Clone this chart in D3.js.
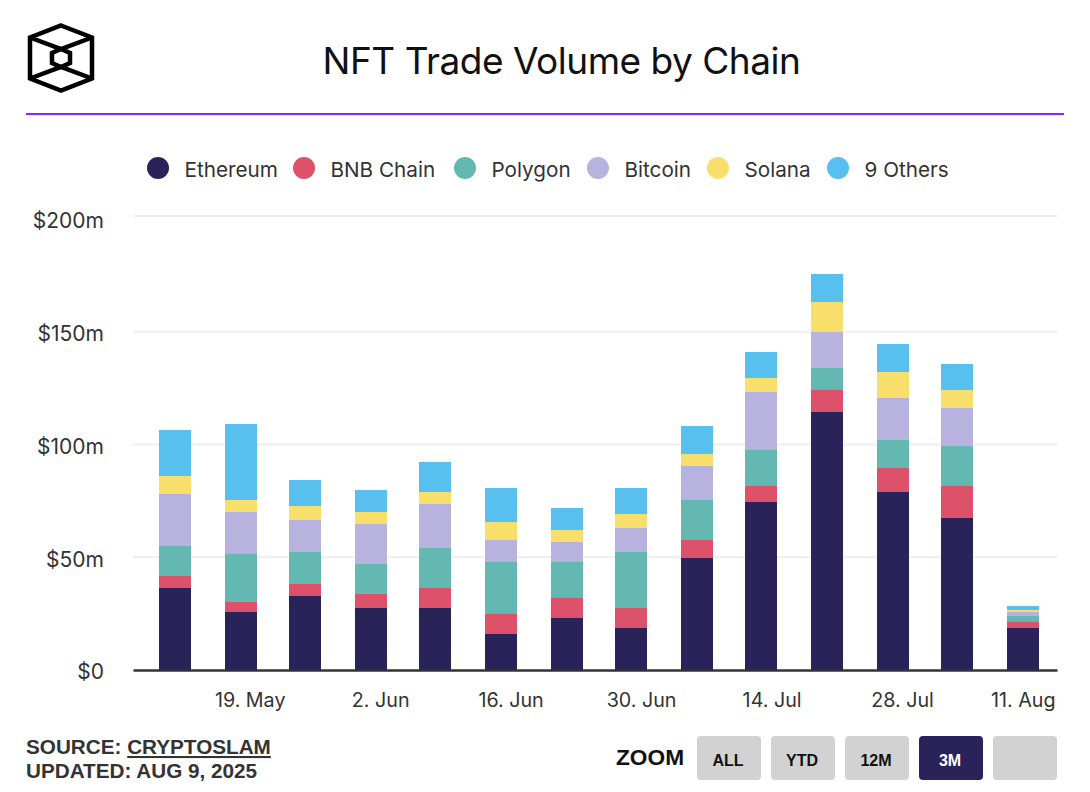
<!DOCTYPE html>
<html>
<head>
<meta charset="utf-8">
<script src="https://d3js.org/d3.v7.min.js"></script>
<style>
	html, body { margin: 0; padding: 0; background: #fff; }
	svg { display: block; }
	text { font-family: Inter, "Noto Sans", sans-serif; }
	.foot text { font-family: "Liberation Sans", Arial, sans-serif; font-weight: bold; }
</style>
</head>
<body>
<script>

// week starts
const weeks = ["2025-05-12", "2025-05-19", "2025-05-26", "2025-06-02", "2025-06-09", "2025-06-16", "2025-06-23",
	"2025-06-30", "2025-07-07", "2025-07-14", "2025-07-21", "2025-07-28", "2025-08-04", "2025-08-11"];
const tickWeeks = ["2025-05-19", "2025-06-02", "2025-06-16", "2025-06-30", "2025-07-14", "2025-07-28", "2025-08-11"];

const chains = ["Ethereum", "BNB Chain", "Polygon", "Bitcoin", "Solana", "9 Others"];
const colors = ["#2a2359", "#dd516a", "#64b8b2", "#b8b2de", "#f8de6b", "#57c0ef"];

// $ millions per week
const ethereum = [36.4, 25.7, 32.8, 27.5, 27.5, 16.0, 23.1, 18.6, 49.7, 74.5, 114.4, 78.9, 67.4, 18.6];
const bnbChain = [5.3, 4.4, 5.3, 6.2, 8.9, 8.9, 8.9, 8.9, 8.0, 7.1, 9.8, 10.6, 14.2, 2.7];
const polygon = [13.3, 21.3, 14.2, 13.3, 17.7, 23.1, 16.0, 24.8, 17.7, 16.0, 9.8, 12.4, 17.7, 2.7];
const bitcoin = [23.1, 18.6, 14.2, 17.7, 19.5, 9.8, 8.9, 10.6, 15.1, 25.7, 16.0, 18.6, 16.9, 1.8];
const solana = [8.0, 5.3, 6.2, 5.3, 5.3, 8.0, 5.3, 6.2, 5.3, 6.2, 13.3, 11.5, 8.0, 0.9];
const others = [20.4, 33.7, 11.5, 9.8, 13.3, 15.1, 9.8, 11.5, 12.4, 11.5, 12.4, 12.4, 11.5, 1.8];

const yTicks = [0, 50, 100, 150, 200];
const zoomLabels = ["ALL", "YTD", "12M", "3M", ""];

const width = 1090, height = 792;
const barWidth = 32, baseY = 670;

const svg = d3.select("body").append("svg")
	.attr("width", width)
	.attr("height", height);

const parseDay = d3.utcParse("%Y-%m-%d");

const x = d3.scaleUtc()
	.domain([Date.UTC(2025, 4, 7, 12), Date.UTC(2025, 7, 14, 15, 30)])
	.range([133, 1057]);
const y = d3.scaleLinear().domain([0, 200]).range([baseY, 219]);
// the top gridline sits a little above where its label is
const gridY = d3.scaleLinear().domain([0, 150, 200]).range([baseY, 331.75, 216]);

// bars land on odd pixels in the original
function snap(v) {
	return 2 * Math.floor((v - 0.1) / 2) + 1;
}

// header
const logo = svg.append("g")
	.attr("fill", "none")
	.attr("stroke", "#000")
	.attr("stroke-width", 4.5)
	.attr("stroke-linejoin", "miter");
logo.append("path").attr("d", "M61,25.5 L92,37.5 V78.5 L61,90.5 L30,78.5 V37.5 Z");
logo.append("path").attr("d", "M61,49 L70,53 V63 L61,67 L52,63 V53 Z");
logo.append("path").attr("d", "M30,37.5 L61,49 L92,37.5 M30,78.5 L61,67 L92,78.5");

svg.append("text")
	.attr("x", 561.5)
	.attr("y", 74)
	.attr("text-anchor", "middle")
	.attr("font-size", 37)
	.attr("letter-spacing", "-0.48px")
	.attr("fill", "#111")
	.text("NFT Trade Volume by Chain");

svg.append("line")
	.attr("x1", 26).attr("x2", 1064)
	.attr("y1", 114).attr("y2", 114)
	.attr("stroke", "#9b1ff0")
	.attr("stroke-width", 2);

// legend
const legendX = [158, 304, 465, 598, 718, 838];
const legend = svg.append("g").selectAll("g")
	.data(chains)
	.join("g")
	.attr("transform", (d, i) => "translate(" + legendX[i] + ",168)");
legend.append("circle")
	.attr("r", 11)
	.attr("fill", (d, i) => colors[i]);
legend.append("text")
	.attr("x", 26.5)
	.attr("y", 9)
	.attr("font-size", 20.7)
	.attr("fill", "#333")
	.text(d => d);

// gridlines
svg.append("g").selectAll("line")
	.data(yTicks.slice(1))
	.join("line")
	.attr("x1", 133).attr("x2", 1057)
	.attr("y1", d => gridY(d)).attr("y2", d => gridY(d))
	.attr("stroke", "#eeeeee")
	.attr("stroke-width", 2);

// y labels
const yAxis = d3.axisLeft(y)
	.tickValues(yTicks)
	.tickSize(0)
	.tickFormat(d => d === 0 ? "$0" : "$" + d + "m");
svg.append("g")
	.attr("transform", "translate(104,0)")
	.call(yAxis)
	.call(g => g.select(".domain").remove())
	.call(g => g.selectAll("text")
		.attr("x", 0)
		.attr("dy", "0.42em")
		.attr("font-size", 21)
		.attr("font-family", "Inter, sans-serif")
		.attr("fill", "#333"));

// stacked bars
const rows = weeks.map((w, i) => ({
	week: parseDay(w),
	"Ethereum": ethereum[i],
	"BNB Chain": bnbChain[i],
	"Polygon": polygon[i],
	"Bitcoin": bitcoin[i],
	"Solana": solana[i],
	"9 Others": others[i]
}));
const stacked = d3.stack().keys(chains)(rows);

svg.append("g").selectAll("g")
	.data(stacked)
	.join("g")
	.attr("fill", (d, i) => colors[i])
	.selectAll("rect")
	.data(d => d)
	.join("rect")
	.attr("shape-rendering", "crispEdges")
	.attr("x", d => snap(x(d.data.week)) - barWidth / 2)
	.attr("width", barWidth)
	.attr("y", d => y(d[1]))
	.attr("height", d => y(d[0]) - y(d[1]));

// x axis
const xAxis = d3.axisBottom(x)
	.tickValues(tickWeeks.map(parseDay))
	.tickSize(0)
	.tickFormat(d3.utcFormat("%-d. %b"));
const xG = svg.append("g")
	.attr("transform", "translate(0," + baseY + ")")
	.call(xAxis);
xG.select(".domain")
	.attr("stroke", "#333")
	.attr("stroke-width", 2.5);
xG.selectAll("text")
	.attr("y", 37)
	.attr("dy", 0)
	.attr("dx", 9.5)
	.attr("font-size", 19.7)
	.attr("font-family", "Inter, sans-serif")
	.attr("fill", "#333");
// last label is pulled in so it stays inside the plot
xG.select(".tick:last-of-type text")
	.attr("text-anchor", "end")
	.attr("dx", 32);

// footer
const foot = svg.append("g").attr("class", "foot");
const source = foot.append("text")
	.attr("x", 26).attr("y", 754)
	.attr("font-size", 20.7)
	.attr("fill", "#333");
source.append("tspan").text("SOURCE: ");
source.append("tspan").attr("text-decoration", "underline").text("CRYPTOSLAM");
foot.append("text")
	.attr("x", 26).attr("y", 778)
	.attr("font-size", 20.7)
	.attr("fill", "#333")
	.text("UPDATED: AUG 9, 2025");

foot.append("text")
	.attr("x", 616).attr("y", 765)
	.attr("font-size", 22.7)
	.attr("fill", "#111")
	.text("ZOOM");

const buttons = foot.selectAll("g.btn")
	.data(zoomLabels)
	.join("g")
	.attr("class", "btn")
	.attr("transform", (d, i) => "translate(" + (697 + i * 74) + ",736)");
buttons.append("rect")
	.attr("width", 64)
	.attr("height", 44)
	.attr("rx", 4)
	.attr("fill", d => d === "3M" ? "#2a2359" : "#d2d2d2");
buttons.append("text")
	.attr("x", 31)
	.attr("y", 29.5)
	.attr("text-anchor", "middle")
	.attr("font-size", 16)
	.attr("fill", d => d === "3M" ? "#fff" : "#111")
	.text(d => d);

</script>
</body>
</html>
